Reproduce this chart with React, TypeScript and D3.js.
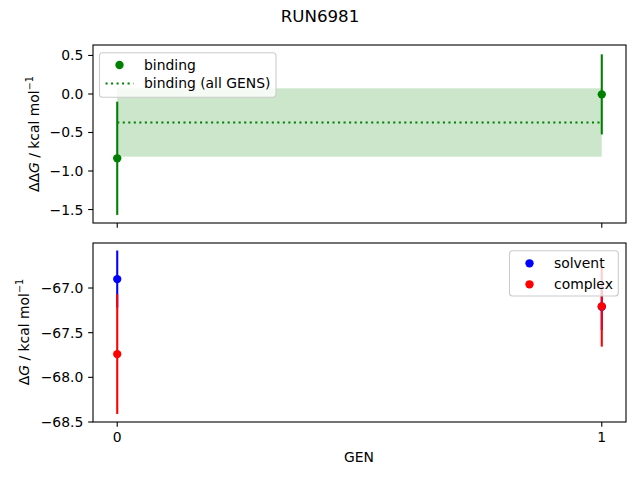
import React from "react";
import * as d3 from "d3";

const gens = [0, 1];
const bindingVals = [-0.835, -0.005];
const bindingErrs = [0.735, 0.52];
const bindingAll = -0.37;
const bindingAllErr = 0.444;
const solventVals = [-66.9, -67.21];
const solventErrs = [0.32, 0.26];
const complexVals = [-67.74, -67.206];
const complexErrs = [0.67, 0.45];
const topTicks = [0.5, 0.0, -0.5, -1.0, -1.5];
const botTicks = [-67.0, -67.5, -68.0, -68.5];
const xTicks = [0, 1];

const W = 640, H = 480;
const L = 93, R = 626;
const T1 = 45, B1 = 223, T2 = 243, B2 = 422;
const FONT = "DejaVu Sans, sans-serif";
const TICK = 13.9;

const fmt = (v: number) => (v < 0 ? "\u2212" : "") + Math.abs(v).toFixed(1);

export default function App() {
  const x = d3.scaleLinear().domain([-0.05, 1.05]).range([L, R]);
  const y1 = d3.scaleLinear().domain([-1.675, 0.636]).range([B1, T1]);
  const y2 = d3.scaleLinear().domain([-68.5, -66.496]).range([B2, T2]);
  const green = "#008000";
  const lw = 2.08;
  const r = 4.17;

  const yAxis = (ticks: number[], y: d3.ScaleLinear<number, number>) =>
    ticks.map((t) => (
      <g key={t}>
        <line x1={L - 4.86} x2={L} y1={y(t)} y2={y(t)} stroke="#000" strokeWidth={1.1} />
        <text x={L - 9.7} y={y(t) + 5} textAnchor="end" fontSize={TICK} fontFamily={FONT}>
          {fmt(t)}
        </text>
      </g>
    ));

  const xAxis = (bottom: number, labels: boolean) =>
    xTicks.map((t) => (
      <g key={t}>
        <line x1={x(t)} x2={x(t)} y1={bottom} y2={bottom + 4.86} stroke="#000" strokeWidth={1.1} />
        {labels && (
          <text x={x(t)} y={bottom + 20} textAnchor="middle" fontSize={TICK} fontFamily={FONT}>
            {String(t)}
          </text>
        )}
      </g>
    ));

  const errbars = (vals: number[], errs: number[], y: d3.ScaleLinear<number, number>, color: string) =>
    gens.map((g, i) => (
      <g key={i}>
        <line x1={x(g)} x2={x(g)} y1={y(vals[i] - errs[i])} y2={y(vals[i] + errs[i])} stroke={color} strokeWidth={lw} />
        <circle cx={x(g)} cy={y(vals[i])} r={r} fill={color} />
      </g>
    ));

  return (
    <svg width={W} height={H} style={{ position: "absolute", left: 0, top: 0, background: "#fff" }}>
      <rect width={W} height={H} fill="#fff" />
      <text x={320} y={22} textAnchor="middle" fontSize={16.67} fontFamily={FONT}>RUN6981</text>

      {/* top panel */}
      <rect x={x(0)} y={y1(bindingAll + bindingAllErr)} width={x(1) - x(0)}
        height={y1(bindingAll - bindingAllErr) - y1(bindingAll + bindingAllErr)} fill={green} fillOpacity={0.2} />
      <line x1={x(0)} x2={x(1)} y1={y1(bindingAll)} y2={y1(bindingAll)} stroke={green} strokeWidth={lw} strokeDasharray="2.08,3.44" />
      {errbars(bindingVals, bindingErrs, y1, green)}
      <rect x={L} y={T1} width={R - L} height={B1 - T1} fill="none" stroke="#000" strokeWidth={1.1} />
      {yAxis(topTicks, y1)}
      {xAxis(B1, false)}
      <g transform="translate(99.5,52.7)">
        <rect width={176.5} height={44.6} rx={3} fill="#fff" fillOpacity={0.8} stroke="#ccc" strokeWidth={1.1} />
        <circle cx={20} cy={12.3} r={r} fill={green} />
        <text x={44.5} y={17.3} fontSize={TICK} fontFamily={FONT}>binding</text>
        <line x1={6} x2={34} y1={30.8} y2={30.8} stroke={green} strokeWidth={lw} strokeDasharray="2.08,3.44" />
        <text x={44.5} y={35.8} fontSize={TICK} fontFamily={FONT}>binding (all GENS)</text>
      </g>
      <text transform={`translate(39,134) rotate(-90)`} textAnchor="middle" fontSize={TICK} fontFamily={FONT}>
        ΔΔ<tspan fontStyle="italic">G</tspan> / kcal mol<tspan dy={-6} fontSize={9.7}>−1</tspan>
      </text>

      {/* bottom panel */}
      {errbars(solventVals, solventErrs, y2, "#0000ff")}
      {errbars(complexVals, complexErrs, y2, "#ff0000")}
      <rect x={L} y={T2} width={R - L} height={B2 - T2} fill="none" stroke="#000" strokeWidth={1.1} />
      {yAxis(botTicks, y2)}
      {xAxis(B2, true)}
      <g transform="translate(509.5,250.7)">
        <rect width={108.8} height={45.3} rx={3} fill="#fff" fillOpacity={0.8} stroke="#ccc" strokeWidth={1.1} />
        <circle cx={20} cy={12.6} r={r} fill="#0000ff" />
        <text x={44.5} y={17.6} fontSize={TICK} fontFamily={FONT}>solvent</text>
        <circle cx={20} cy={33.6} r={r} fill="#ff0000" />
        <text x={44.5} y={38.6} fontSize={TICK} fontFamily={FONT}>complex</text>
      </g>
      <text transform={`translate(29,332) rotate(-90)`} textAnchor="middle" fontSize={TICK} fontFamily={FONT}>
        Δ<tspan fontStyle="italic">G</tspan> / kcal mol<tspan dy={-6} fontSize={9.7}>−1</tspan>
      </text>
      <text x={359} y={462} textAnchor="middle" fontSize={TICK} fontFamily={FONT}>GEN</text>
    </svg>
  );
}
